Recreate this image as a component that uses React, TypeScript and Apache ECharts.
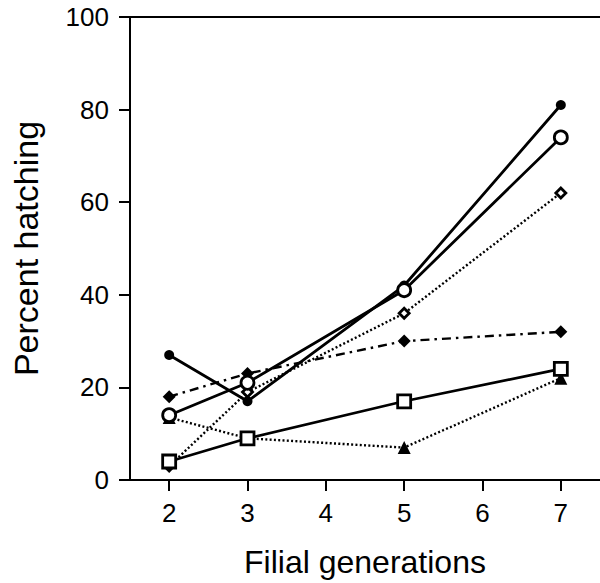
import React, { useEffect, useRef } from "react";
import * as echarts from "echarts";

const generations = [2, 3, 5, 7];
const xTicks = [2, 3, 4, 5, 6, 7];
const filledCircle = [27, 17, 42, 81];
const openCircle = [14, 21, 41, 74];
const openDiamond = [3, 19, 36, 62];
const filledDiamond = [18, 23, 30, 32];
const openSquare = [4, 9, 17, 24];
const filledTriangle = [13.5, 9, 7, 22];

const FONT = "Liberation Sans, Arial, Helvetica, sans-serif";

const pairs = (ys: number[]) => generations.map((g, i) => [g, ys[i]]);

export default function App() {
  const ref = useRef<HTMLDivElement>(null);
  useEffect(() => {
    if (!ref.current) return;
    const chart = echarts.init(ref.current, null, { renderer: "svg" });
    const mk = (
      name: string,
      ys: number[],
      symbol: string,
      size: number,
      filled: boolean,
      lineType: any,
      lineWidth: number,
      z: number
    ) => ({
      name,
      type: "line",
      data: pairs(ys),
      symbol,
      symbolSize: size,
      showSymbol: true,
      z,
      lineStyle: { color: "#000", width: lineWidth, type: lineType },
      itemStyle: filled
        ? { color: "#000", borderColor: "#000", borderWidth: 0 }
        : { color: "#fff", borderColor: "#000", borderWidth: 2.8 },
    });
    chart.setOption({
      animation: false,
      backgroundColor: "#fff",
      grid: { left: 130, right: -4, top: 17, bottom: 99 },
      xAxis: [
        {
          type: "value",
          position: "bottom",
          min: 1.5,
          max: 7.5,
          name: "Filial generations",
          nameLocation: "middle",
          nameGap: 66,
          nameTextStyle: { fontFamily: FONT, fontSize: 32, color: "#000" },
          axisLine: { show: true, onZero: false, lineStyle: { color: "#000", width: 2 } },
          axisTick: {
            show: true,
            inside: false,
            length: 11,
            customValues: xTicks,
            lineStyle: { color: "#000", width: 2 },
          },
          axisLabel: {
            show: true,
            customValues: xTicks,
            margin: 20,
            fontFamily: FONT,
            fontSize: 26,
            color: "#000",
          },
          splitLine: { show: false },
        },
        {
          type: "value",
          position: "top",
          min: 1.5,
          max: 7.5,
          axisLine: { show: true, onZero: false, lineStyle: { color: "#000", width: 2 } },
          axisTick: { show: false },
          axisLabel: { show: false },
          splitLine: { show: false },
        },
      ],
      yAxis: {
        type: "value",
        min: 0,
        max: 100,
        interval: 20,
        name: "Percent hatching",
        nameLocation: "middle",
        nameGap: 87,
        nameTextStyle: { fontFamily: FONT, fontSize: 34, color: "#000" },
        axisLine: { show: true, lineStyle: { color: "#000", width: 2 } },
        axisTick: { show: true, inside: false, length: 11, lineStyle: { color: "#000", width: 2 } },
        axisLabel: { margin: 21, fontFamily: FONT, fontSize: 26, color: "#000" },
        splitLine: { show: false },
      },
      series: [
        mk("triangle", filledTriangle, "triangle", 13, true, [2, 2.3], 2.4, 2),
        mk("openDiamond", openDiamond, "diamond", 10, false, [2, 2.3], 2.4, 3),
        mk("filledDiamond", filledDiamond, "diamond", 13, true, [9, 5, 2.5, 5], 2.4, 4),
        mk("openSquare", openSquare, "rect", 13, false, "solid", 2.6, 5),
        mk("filledCircle", filledCircle, "circle", 10, true, "solid", 2.8, 6),
        mk("openCircle", openCircle, "circle", 13, false, "solid", 2.8, 7),
      ],
    });
    return () => chart.dispose();
  }, []);
  return (
    <div
      ref={ref}
      style={{ position: "absolute", left: 0, top: 0, width: 600, height: 583, background: "#fff" }}
    />
  );
}
